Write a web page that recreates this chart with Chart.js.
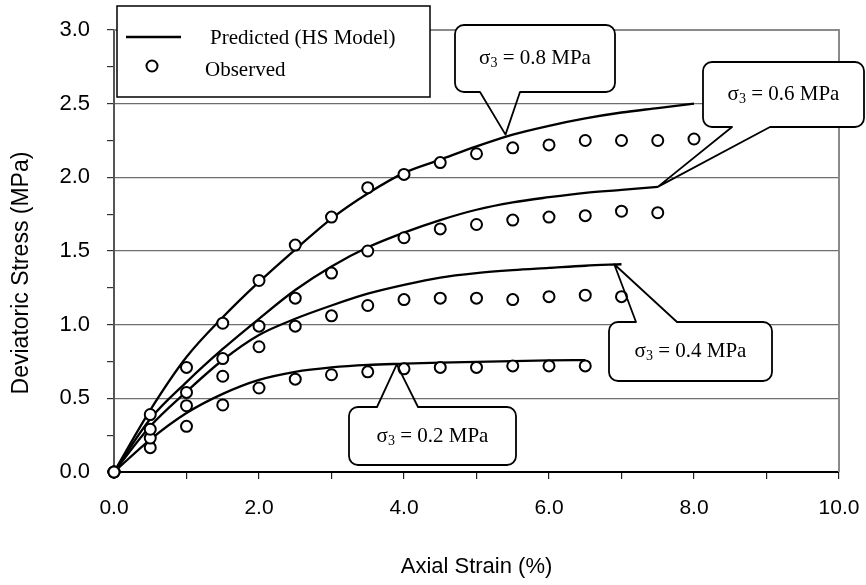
<!DOCTYPE html>
<html>
<head>
<meta charset="utf-8">
<script src="https://cdn.jsdelivr.net/npm/chart.js@4.4.1/dist/chart.umd.min.js"></script>
<style>
  html, body { margin: 0; padding: 0; background: #fff; }
  #wrap { width: 866px; height: 585px; }
</style>
</head>
<body>
<div id="wrap"><canvas id="chart" width="866" height="585"></canvas></div>
<script>
// axial strain (%) steps shared by every series
const strainSteps = [0, 0.5, 1, 1.5, 2, 2.5, 3, 3.5, 4, 4.5, 5, 5.5, 6, 6.5, 7, 7.5, 8];

// observed deviatoric stress (MPa)
const obs08 = [0, 0.39, 0.71, 1.01, 1.30, 1.54, 1.73, 1.93, 2.02, 2.10, 2.16, 2.20, 2.22, 2.25, 2.25, 2.25, 2.26];
const obs06 = [0, 0.29, 0.54, 0.77, 0.99, 1.18, 1.35, 1.50, 1.59, 1.65, 1.68, 1.71, 1.73, 1.74, 1.77, 1.76];
const obs04 = [0, 0.23, 0.45, 0.65, 0.85, 0.99, 1.06, 1.13, 1.17, 1.18, 1.18, 1.17, 1.19, 1.20, 1.19];
const obs02 = [0, 0.165, 0.31, 0.455, 0.57, 0.63, 0.66, 0.68, 0.70, 0.71, 0.71, 0.72, 0.72, 0.72];

// predicted (HS model) deviatoric stress (MPa)
const pred08 = [0, 0.42, 0.78, 1.05, 1.29, 1.51, 1.72, 1.89, 2.03, 2.12, 2.21, 2.29, 2.35, 2.40, 2.44, 2.47, 2.50];
const pred06 = [0, 0.36, 0.61, 0.835, 1.04, 1.235, 1.395, 1.525, 1.625, 1.71, 1.78, 1.83, 1.865, 1.895, 1.915, 1.935];
const pred04 = [0, 0.31, 0.545, 0.76, 0.93, 1.04, 1.13, 1.21, 1.27, 1.32, 1.35, 1.37, 1.385, 1.40, 1.41];
const pred02 = [0, 0.22, 0.40, 0.53, 0.625, 0.68, 0.71, 0.727, 0.735, 0.742, 0.748, 0.753, 0.757, 0.76];

// callout labels and the point (strain, stress) each one points at
const calloutLabels = ['0.8', '0.6', '0.4', '0.2'];
const calloutTipStrain = [5.4, 7.5, 6.9, 3.9];
const calloutTipStress = [2.29, 1.935, 1.41, 0.73];

const SERIF = '"Liberation Serif", "Times New Roman", serif';
const SANS = '"Liberation Sans", Arial, sans-serif';

const toPts = ys => ys.map((y, i) => ({ x: strainSteps[i], y }));

const lineSet = ys => ({
  type: 'line', data: toPts(ys), borderColor: '#000', borderWidth: 2.3,
  pointRadius: 0, cubicInterpolationMode: 'monotone', fill: false, order: 2
});
const pointSet = ys => ({
  type: 'scatter', data: toPts(ys), showLine: false, pointStyle: 'circle', clip: false,
  pointRadius: 5.5, pointBorderWidth: 2, pointBorderColor: '#000',
  pointBackgroundColor: '#fff', order: 1
});

// pixel boxes of the callouts (layout only): left, top, right, bottom, tail base x1, x2
const calloutBoxes = [
  [455, 25, 615, 92, 480, 520],
  [703, 62, 864, 127, 732, 770],
  [609, 322, 772, 381, 636, 677],
  [349, 407, 516, 465, 377, 418]
];

function sigmaText(ctx, label, cx, cy) {
  const main = '21px ' + SERIF, sub = '14px ' + SERIF;
  const rest = ' = ' + label + ' MPa';
  ctx.font = main; const wS = ctx.measureText('σ').width, wR = ctx.measureText(rest).width;
  ctx.font = sub; const w3 = ctx.measureText('3').width;
  let x = cx - (wS + w3 + wR) / 2;
  ctx.fillStyle = '#000'; ctx.textBaseline = 'middle'; ctx.textAlign = 'left';
  ctx.font = main; ctx.fillText('σ', x, cy); x += wS;
  ctx.font = sub; ctx.fillText('3', x, cy + 5); x += w3;
  ctx.font = main; ctx.fillText(rest, x, cy);
}

function drawCallout(ctx, box, tx, ty, label) {
  const [x1, y1, x2, y2, b1, b2] = box, r = 9;
  ctx.save();
  ctx.beginPath(); ctx.roundRect(x1, y1, x2 - x1, y2 - y1, r);
  ctx.fillStyle = '#fff'; ctx.fill();
  ctx.beginPath();
  if (ty > y2) {
    ctx.moveTo(b1, y2); ctx.lineTo(tx, ty); ctx.lineTo(b2, y2);
    ctx.lineTo(x2 - r, y2); ctx.arcTo(x2, y2, x2, y2 - r, r);
    ctx.lineTo(x2, y1 + r); ctx.arcTo(x2, y1, x2 - r, y1, r);
    ctx.lineTo(x1 + r, y1); ctx.arcTo(x1, y1, x1, y1 + r, r);
    ctx.lineTo(x1, y2 - r); ctx.arcTo(x1, y2, x1 + r, y2, r);
  } else {
    ctx.moveTo(b2, y1); ctx.lineTo(tx, ty); ctx.lineTo(b1, y1);
    ctx.lineTo(x1 + r, y1); ctx.arcTo(x1, y1, x1, y1 + r, r);
    ctx.lineTo(x1, y2 - r); ctx.arcTo(x1, y2, x1 + r, y2, r);
    ctx.lineTo(x2 - r, y2); ctx.arcTo(x2, y2, x2, y2 - r, r);
    ctx.lineTo(x2, y1 + r); ctx.arcTo(x2, y1, x2 - r, y1, r);
  }
  ctx.closePath();
  ctx.strokeStyle = '#000'; ctx.lineWidth = 1.8; ctx.lineJoin = 'round'; ctx.stroke();
  sigmaText(ctx, label, (x1 + x2) / 2, (y1 + y2) / 2);
  ctx.restore();
}

const decorPlugin = {
  id: 'decor',
  beforeDatasetsDraw(chart) {
    const { ctx, chartArea: a } = chart;
    ctx.save();
    ctx.strokeStyle = '#8a8a8a'; ctx.lineWidth = 2;
    ctx.beginPath(); ctx.moveTo(a.left, a.top); ctx.lineTo(a.right, a.top); ctx.lineTo(a.right, a.bottom); ctx.stroke();
    // y axis title
    ctx.translate(22, 273); ctx.rotate(-Math.PI / 2);
    ctx.fillStyle = '#000'; ctx.font = '23px ' + SANS; ctx.textAlign = 'center'; ctx.textBaseline = 'middle';
    ctx.fillText('Deviatoric Stress (MPa)', 0, 0);
    ctx.restore();
  },
  afterDraw(chart) {
    const { ctx, scales: { x, y } } = chart;
    calloutLabels.forEach((lab, i) => {
      drawCallout(ctx, calloutBoxes[i], x.getPixelForValue(calloutTipStrain[i]), y.getPixelForValue(calloutTipStress[i]), lab);
    });
    // legend
    ctx.save();
    ctx.fillStyle = '#fff'; ctx.fillRect(117, 6, 313, 91);
    ctx.strokeStyle = '#000'; ctx.lineWidth = 1.5; ctx.strokeRect(117, 6, 313, 91);
    ctx.lineWidth = 2.3; ctx.beginPath(); ctx.moveTo(126, 37); ctx.lineTo(181, 37); ctx.stroke();
    ctx.lineWidth = 2; ctx.beginPath(); ctx.arc(152, 66, 5.5, 0, Math.PI * 2); ctx.fillStyle = '#fff'; ctx.fill(); ctx.stroke();
    ctx.fillStyle = '#000'; ctx.font = '21px ' + SERIF; ctx.textBaseline = 'alphabetic'; ctx.textAlign = 'left';
    ctx.fillText('Predicted (HS Model)', 210, 44);
    ctx.fillText('Observed', 205, 76);
    ctx.restore();
  }
};

const isHalf = v => Math.abs(v * 2 - Math.round(v * 2)) < 1e-6;

new Chart(document.getElementById('chart'), {
  data: {
    datasets: [
      lineSet(pred08), lineSet(pred06), lineSet(pred04), lineSet(pred02),
      pointSet(obs08), pointSet(obs06), pointSet(obs04), pointSet(obs02)
    ]
  },
  options: {
    responsive: false,
    animation: false,
    layout: { padding: { top: 30, right: 27, left: 0, bottom: 0 } },
    plugins: { legend: { display: false }, tooltip: { enabled: false } },
    scales: {
      x: {
        type: 'linear', min: 0, max: 10,
        afterFit: s => { s.height = 113; s.paddingLeft = 0; s.paddingRight = 0; },
        ticks: {
          stepSize: 1, autoSkip: false, padding: 17, color: '#000',
          font: { family: SANS, size: 21 },
          callback: v => (Math.round(v) % 2 === 0 ? v.toFixed(1) : '')
        },
        grid: { drawOnChartArea: false, tickLength: 7, tickColor: '#222', lineWidth: 1.2 },
        border: { color: '#000', width: 2 },
        title: { display: true, text: 'Axial Strain (%)', color: '#000', font: { family: SANS, size: 22 }, padding: { bottom: 5 } }
      },
      y: {
        type: 'linear', min: 0, max: 3,
        afterFit: s => { s.width = 114; s.paddingTop = 0; s.paddingBottom = 0; },
        ticks: {
          stepSize: 0.25, autoSkip: false, padding: 17, color: '#000',
          font: { family: SANS, size: 22 },
          callback: v => (isHalf(v) ? v.toFixed(1) : '')
        },
        grid: {
          tickLength: 7, tickColor: '#333', lineWidth: 1.2,
          color: c => (c.tick && isHalf(c.tick.value) && c.tick.value > 0 && c.tick.value < 3 ? '#6e6e6e' : 'rgba(0,0,0,0)')
        },
        border: { color: '#555', width: 2 }
      }
    }
  },
  plugins: [decorPlugin]
});
</script>
</body>
</html>
